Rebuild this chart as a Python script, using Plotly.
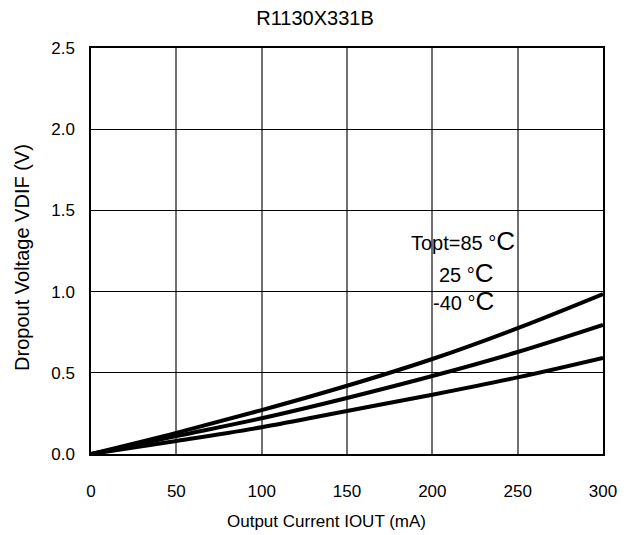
import plotly.graph_objects as go

current = [0, 50, 100, 150, 200, 250, 300]
vdif_85 = [0.0, 0.13, 0.27, 0.42, 0.585, 0.775, 0.985]
vdif_25 = [0.0, 0.11, 0.22, 0.345, 0.48, 0.628, 0.795]
vdif_m40 = [0.0, 0.08, 0.165, 0.265, 0.365, 0.472, 0.592]

fig = go.Figure()
for ys in (vdif_85, vdif_25, vdif_m40):
    fig.add_trace(go.Scatter(x=current, y=ys, mode="lines", line=dict(color="black", width=4, shape="spline"), showlegend=False))

font = "Liberation Sans, Arial, sans-serif"
big = "<span style='font-size:26px'>C</span>"
fig.add_annotation(x=186.5, y=1.31, text="Topt=85 °" + big, showarrow=False, xanchor="left", yanchor="middle", font=dict(size=20, family=font, color="black"))
fig.add_annotation(x=202.5, y=1.115, text="25 °" + big, showarrow=False, xanchor="left", yanchor="middle", font=dict(size=20, family=font, color="black"))
fig.add_annotation(x=199.5, y=0.945, text="-40 °" + big, showarrow=False, xanchor="left", yanchor="middle", font=dict(size=20, family=font, color="black"))

# axis titles
fig.add_annotation(xref="paper", yref="paper", x=0.459, y=0, yshift=-67, xanchor="center", yanchor="middle",
                   text="Output Current IOUT (mA)", showarrow=False, font=dict(size=17, family=font, color="black"))
fig.add_annotation(xref="paper", yref="paper", x=0, xshift=-69, y=0.483, xanchor="center", yanchor="middle", textangle=-90,
                   text="Dropout Voltage VDIF (V)", showarrow=False, font=dict(size=20, family=font, color="black"))

fig.update_layout(
    width=631, height=527,
    margin=dict(l=83, r=36, t=40, b=81, autoexpand=False),
    paper_bgcolor="white", plot_bgcolor="white",
    font=dict(family=font, size=17, color="black"),
    title=dict(text="R1130X331B", x=0.4865, xref="container", xanchor="center", y=0.981, yref="container", yanchor="middle", font=dict(size=20)),
    xaxis=dict(range=[0, 300], tickvals=[0, 50, 100, 150, 200, 250, 300], showgrid=True, gridcolor="#707070", gridwidth=1.5,
               showline=True, linecolor="black", linewidth=1.5, mirror=True, zeroline=False, ticks="", automargin=False,
               ticklabelstandoff=21, tickfont=dict(size=17)),
    yaxis=dict(range=[0, 2.5], tickvals=[0, 0.5, 1.0, 1.5, 2.0, 2.5], ticktext=["0.0", "0.5", "1.0", "1.5", "2.0", "2.5"],
               showgrid=True, gridcolor="black", gridwidth=1, showline=True, linecolor="black", linewidth=1.5, mirror=True,
               zeroline=False, ticks="", ticklabelstandoff=11, tickfont=dict(size=17), automargin=False),
)
fig.write_html("out.html")
